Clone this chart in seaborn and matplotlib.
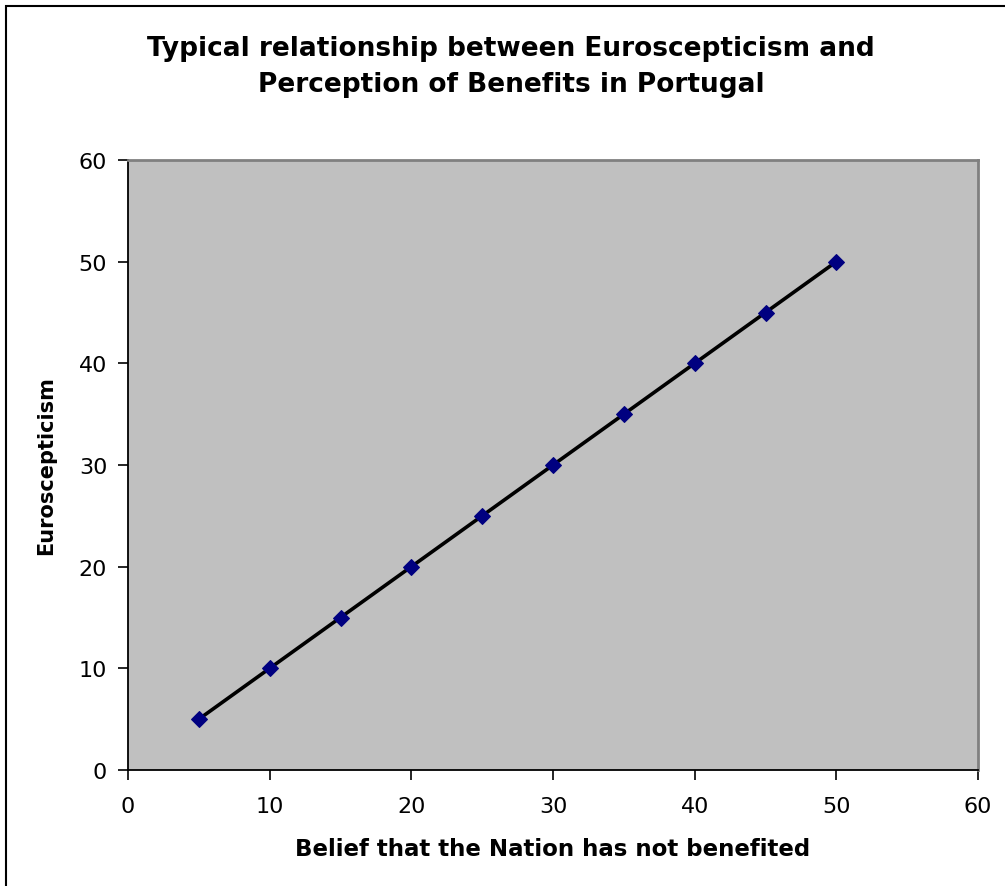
import matplotlib
matplotlib.use("Agg")
import matplotlib.pyplot as plt
from matplotlib.patches import Rectangle
import seaborn as sns
import pandas as pd

# Survey-derived index values
benefit_belief = [5, 10, 15, 20, 25, 30, 35, 40, 45, 50]
euroscepticism = [5, 10, 15, 20, 25, 30, 35, 40, 45, 50]
axis_ticks = [0, 10, 20, 30, 40, 50, 60]

title_text = "Typical relationship between Euroscepticism and\nPerception of Benefits in Portugal"
x_label = "Belief that the Nation has not benefited"
y_label = "Euroscepticism"

sns.set_theme(style="white")
plt.rcParams["font.family"] = ["DejaVu Sans"]
plt.rcParams["text.color"] = "black"
plt.rcParams["axes.labelcolor"] = "black"

df = pd.DataFrame({"benefit": benefit_belief, "euro": euroscepticism})

fig = plt.figure(figsize=(10.05, 8.87), dpi=100)
fig.patch.set_facecolor("white")
ax = fig.add_axes([128 / 1005, 1 - 771 / 887, 850 / 1005, 610 / 887])
ax.set_facecolor("#C0C0C0")

sns.lineplot(data=df, x="benefit", y="euro", ax=ax, color="black", linewidth=2.6,
             marker="D", markersize=8, markerfacecolor="#000080",
             markeredgecolor="#000080", zorder=3)

ax.set_xlim(0, 60)
ax.set_ylim(0, 60)
ax.set_xticks(axis_ticks)
ax.set_yticks(axis_ticks)
ax.tick_params(axis="both", direction="out", length=7, width=1.2, color="black",
               labelsize=16, labelcolor="black", bottom=True, left=True)
ax.tick_params(axis="x", pad=12)
ax.tick_params(axis="y", pad=8)

for side in ("left", "bottom"):
    ax.spines[side].set_color("black")
    ax.spines[side].set_linewidth(1.3)
for side in ("top", "right"):
    ax.spines[side].set_color("#808080")
    ax.spines[side].set_linewidth(2.0)

ax.set_xlabel(x_label, fontsize=16.5, fontweight="bold", labelpad=15, color="black")
ax.set_ylabel(y_label, fontsize=15, fontweight="bold", labelpad=16, color="black")

fig.text(511 / 1005, 1 - 66.5 / 887, title_text, ha="center", va="center",
         fontsize=19, fontweight="bold", linespacing=1.5, color="black")

# Chart area frame
fig.patches.append(Rectangle((6 / 1005, -0.01), 1.05, 1 - 7 / 887 + 0.01,
                             transform=fig.transFigure, fill=False,
                             edgecolor="black", linewidth=1.5))

fig.savefig("out.png", dpi=100, facecolor="white")
